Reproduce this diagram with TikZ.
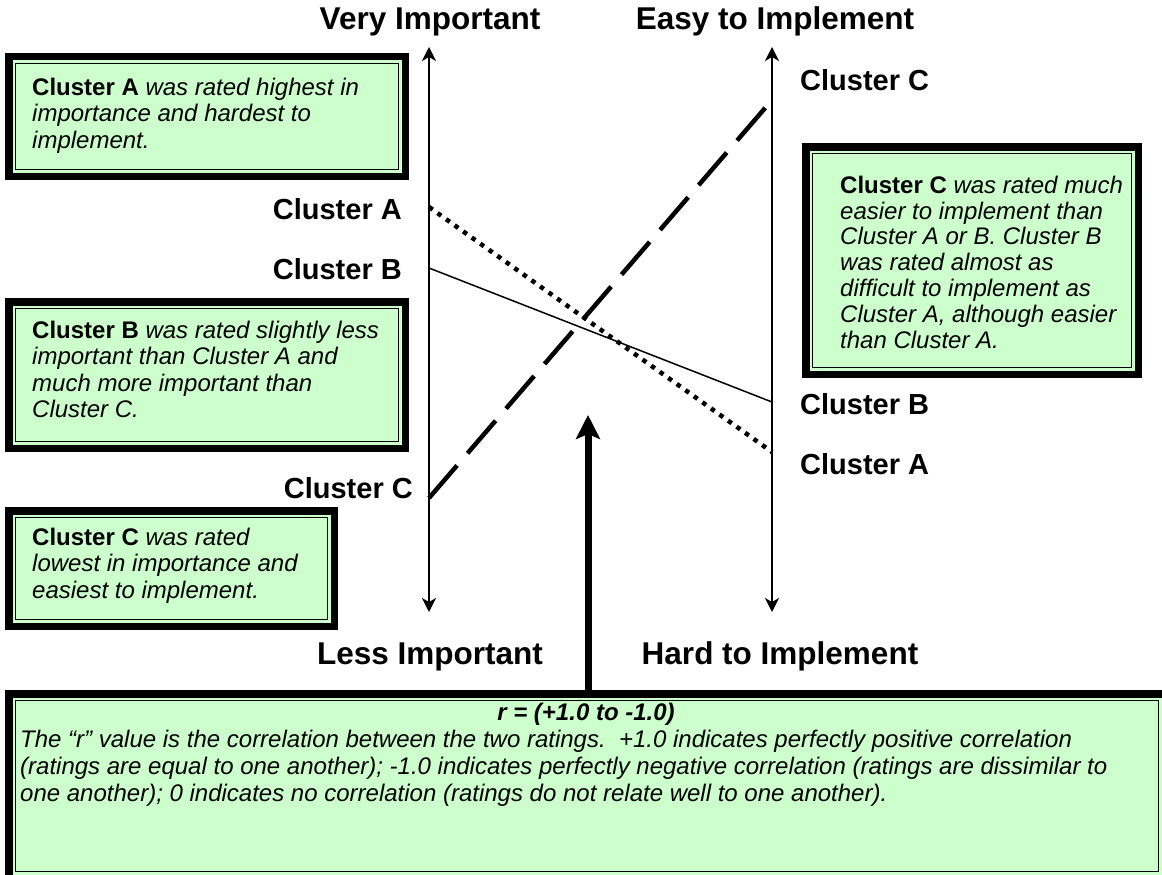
\documentclass[tikz,border=0pt]{standalone}
\usepackage{fontspec}
\setmainfont{Liberation Sans}
\usetikzlibrary{arrows.meta}
\definecolor{boxgreen}{RGB}{204,255,204}
\newcommand\firststrut{\rule{0pt}{19pt}}

\tikzset{
  axis/.style={line width=1.5pt,
    {Stealth[length=14pt,width=14pt,inset=4pt]}-{Stealth[length=14pt,width=14pt,inset=4pt]}},
  clabel/.style={font=\fontsize{29}{31}\selectfont\bfseries, inner sep=0pt},
  tlabel/.style={font=\fontsize{31.5}{33}\selectfont\bfseries, inner sep=0pt},
  boxfill/.style={fill=boxgreen, draw=none, inner sep=0pt, outer sep=0pt, anchor=north west},
  outerframe/.style={line width=7.5pt},
  innerframe/.style={line width=1.3pt},
  boxtext/.style={font=\fontsize{24}{26.5}\selectfont, inner sep=0pt, anchor=north west, align=left},
  notetext/.style={font=\fontsize{24}{27}\selectfont\itshape, inner sep=0pt, anchor=north west, align=left},
  dotline/.style={line width=4.5pt, dash pattern=on 4.5pt off 6pt},
  dashline/.style={line width=4.5pt, dash pattern=on 43pt off 16pt},
  thinline/.style={line width=1.5pt},
  bigarrow/.style={line width=7pt, -{Stealth[length=24pt,width=24pt,inset=5pt]}}
}

% frame of a box: thick outer line, thin inner line
\newcommand\thickthinframe[1]{%
  \draw[outerframe] ([shift={(3.75,3.75)}]#1.north west) rectangle ([shift={(-3.75,-3.75)}]#1.south east);
  \draw[innerframe] ([shift={(10.5,10.5)}]#1.north west) rectangle ([shift={(-10.5,-10.5)}]#1.south east);
}

\begin{document}
\begin{tikzpicture}[x=1pt,y=-1pt]
\useasboundingbox (0,0) rectangle (1162,875);

% ---- boxes ----
\node[boxfill, minimum width=404pt, minimum height=127pt] (boxA) at (5,53) {};
\thickthinframe{boxA}
\node[boxtext] (txtA) at (32,76) {\firststrut\textbf{Cluster A} \textit{was rated highest in}\\
  \textit{importance and hardest to}\\ \textit{implement.}};

\node[boxfill, minimum width=404pt, minimum height=154pt] (boxB) at (5,298) {};
\thickthinframe{boxB}
\node[boxtext] (txtB) at (32,319) {\firststrut\textbf{Cluster B} \textit{was rated slightly less}\\
  \textit{important than Cluster A and}\\ \textit{much more important than}\\ \textit{Cluster C.}};

\node[boxfill, minimum width=333pt, minimum height=123pt] (boxC) at (5,507) {};
\thickthinframe{boxC}
\node[boxtext] (txtC) at (32,526) {\firststrut\textbf{Cluster C} \textit{was rated}\\
  \textit{lowest in importance and}\\ \textit{easiest to implement.}};

\node[boxfill, minimum width=340pt, minimum height=235pt] (boxR) at (802,143) {};
\thickthinframe{boxR}
\node[boxtext, font=\fontsize{24}{25.8}\selectfont] (txtR) at (840,174) {\firststrut\textbf{Cluster C} \textit{was rated much}\\
  \textit{easier to implement than}\\ \textit{Cluster A or B. Cluster B}\\ \textit{was rated almost as}\\
  \textit{difficult to implement as}\\ \textit{Cluster A, although easier}\\ \textit{than Cluster A.}};

\node[boxfill, minimum width=1164pt, minimum height=192pt] (boxN) at (5,690) {};
\thickthinframe{boxN}
\node[font=\fontsize{24}{27}\selectfont\bfseries\itshape, inner sep=0pt, anchor=base] (rtitle) at (586,720) {r = (+1.0 to -1.0)};
\node[notetext] (rtext) at (20,728) {\firststrut The “r” value is the correlation between the two ratings.\ \ +1.0 indicates perfectly positive correlation\\
  (ratings are equal to one another); -1.0 indicates perfectly negative correlation (ratings are dissimilar to\\
  one another); 0 indicates no correlation (ratings do not relate well to one another).};

% ---- axes ----
\coordinate (Ltop) at (429,47);  \coordinate (Lbot) at (429,612);
\coordinate (Rtop) at (772,47);  \coordinate (Rbot) at (772,612);
\draw[axis] (Lbot) -- (Ltop);
\draw[axis] (Rbot) -- (Rtop);

% ---- rating lines ----
\coordinate (LA) at (429,207); \coordinate (RA) at (772,452);
\coordinate (LB) at (429,268); \coordinate (RB) at (772,402);
\coordinate (LC) at (429,498); \coordinate (RC) at (772,100);
\draw[dotline] (LA) -- (RA);
\draw[thinline] (LB) -- (RB);
\draw[dashline] (LC) -- (RC);

% ---- arrow from the note ----
\coordinate (foot) at (588,692);
\coordinate (tip) at (588,415);
\draw[bigarrow] (foot) -- (tip);

% ---- labels ----
\node[tlabel, anchor=base] (vi) at (430,30) {Very Important};
\node[tlabel, anchor=base] (ei) at (775,30) {Easy to Implement};
\node[tlabel, anchor=base] (li) at (430,664) {Less Important};
\node[tlabel, anchor=base] (hi) at (780,664) {Hard to Implement};
\node[clabel, anchor=base east] (lA) at (402,219) {Cluster A};
\node[clabel, anchor=base east] (lB) at (402,279) {Cluster B};
\node[clabel, anchor=base east] (lC) at (413,498) {Cluster C};
\node[clabel, anchor=base west] (rC) at (800,91) {Cluster C};
\node[clabel, anchor=base west] (rB) at (800,414) {Cluster B};
\node[clabel, anchor=base west] (rA) at (800,474) {Cluster A};
\end{tikzpicture}
\end{document}
